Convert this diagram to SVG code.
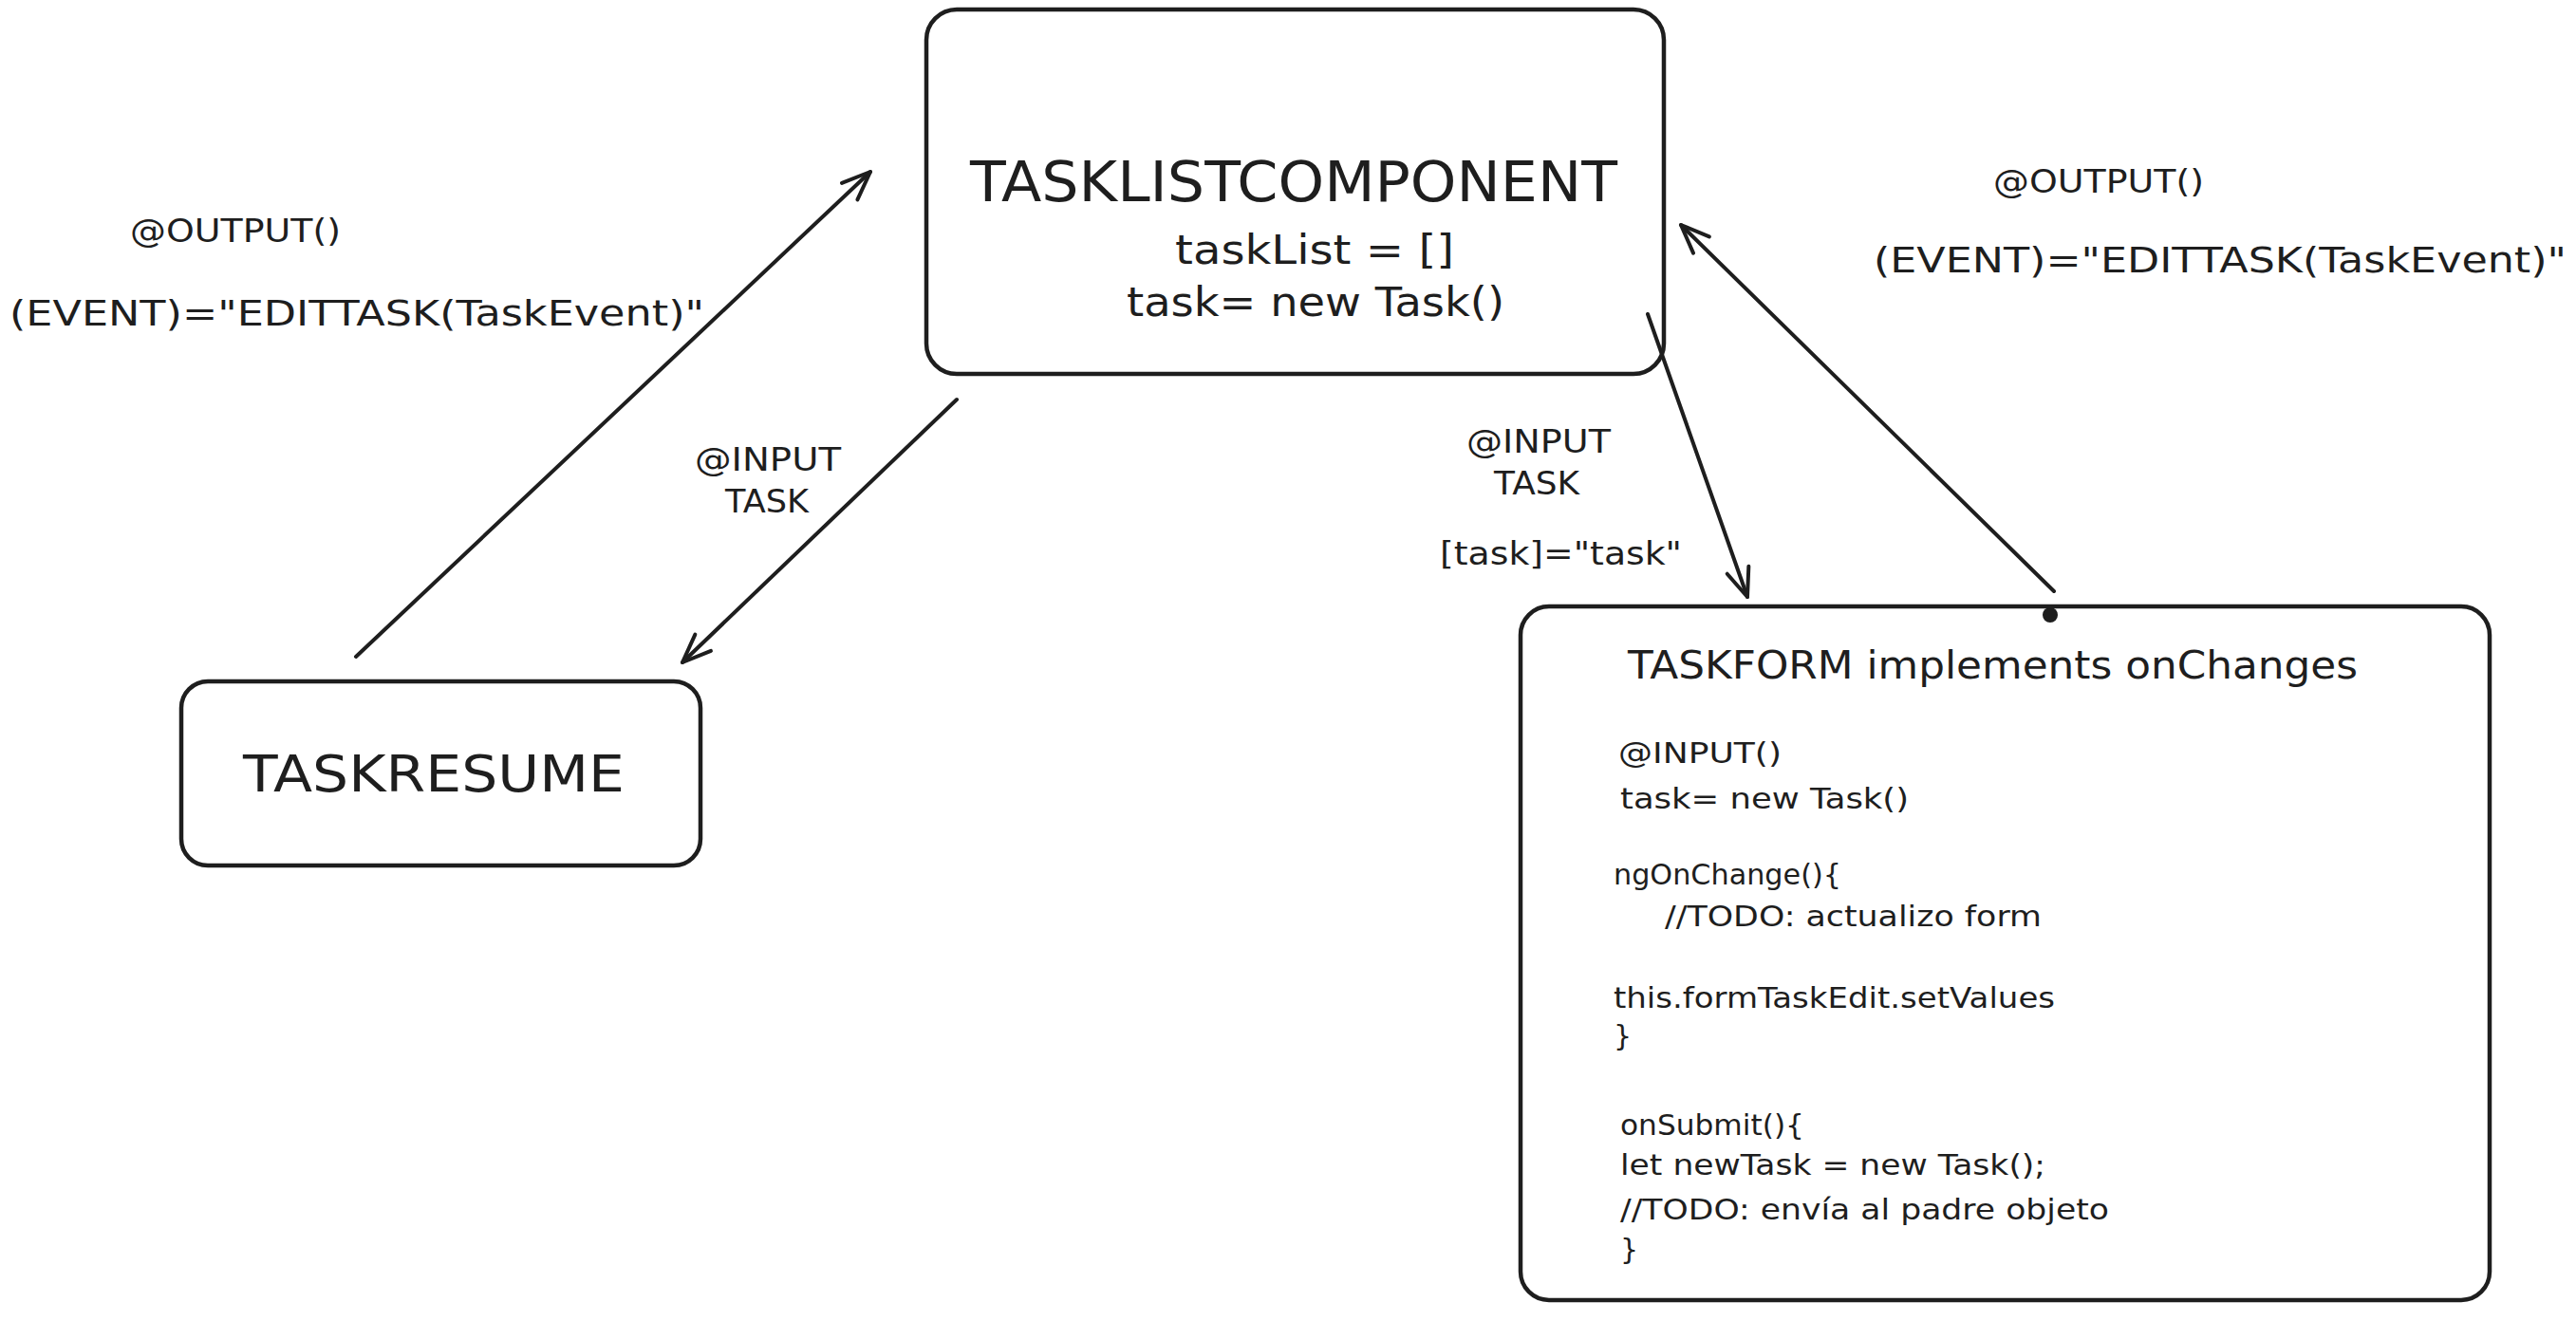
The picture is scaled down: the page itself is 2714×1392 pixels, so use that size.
<svg xmlns="http://www.w3.org/2000/svg" width="2714" height="1392" viewBox="0 0 2714 1392">
  <style>
    .box { fill: none; stroke: #1e1e1e; stroke-width: 4.5; }
    .conn { fill: none; stroke: #1e1e1e; stroke-width: 4; stroke-linecap: round; }
    text { font-family: "DejaVu Sans", "Liberation Sans", sans-serif; fill: #1e1e1e; }
    .title { font-size: 58px; }
    .sub { font-size: 42px; }
    .lbl { font-size: 33px; }
    .evt { font-size: 38px; }
    .code { font-size: 30px; }
    .ftitle { font-size: 41px; }
  </style>
  <defs>
    <marker id="arrow" markerUnits="userSpaceOnUse" markerWidth="60" markerHeight="60" viewBox="-40 -30 60 60" refX="0" refY="0" orient="auto">
      <path d="M -30 -12 L 0 0 L -30 12" fill="none" stroke="#1e1e1e" stroke-width="4" stroke-linecap="round" stroke-linejoin="round"/>
    </marker>
  </defs>

  <g id="connectors">
    <line class="conn" x1="375" y1="692" x2="917" y2="181" marker-end="url(#arrow)"/>
    <line class="conn" x1="1008" y1="421" x2="719" y2="698" marker-end="url(#arrow)"/>
    <line class="conn" x1="1736" y1="331" x2="1841" y2="629" marker-end="url(#arrow)"/>
    <line class="conn" x1="2164" y1="623" x2="1771" y2="237" marker-end="url(#arrow)"/>
    <circle cx="2160" cy="648" r="8" fill="#1e1e1e"/>
  </g>

  <g id="labels">
    <text class="lbl" x="137" y="255" textLength="222" lengthAdjust="spacingAndGlyphs">@OUTPUT()</text>
    <text class="evt" x="10" y="343" textLength="732" lengthAdjust="spacingAndGlyphs">(EVENT)="EDITTASK(TaskEvent)"</text>
    <text class="lbl" x="732" y="496" textLength="154" lengthAdjust="spacingAndGlyphs">@INPUT</text>
    <text class="lbl" x="764" y="540" textLength="88" lengthAdjust="spacingAndGlyphs">TASK</text>
    <text class="lbl" x="2100" y="203" textLength="222" lengthAdjust="spacingAndGlyphs">@OUTPUT()</text>
    <text class="evt" x="1974" y="287" textLength="730" lengthAdjust="spacingAndGlyphs">(EVENT)="EDITTASK(TaskEvent)"</text>
    <text class="lbl" x="1545" y="477" textLength="152" lengthAdjust="spacingAndGlyphs">@INPUT</text>
    <text class="lbl" x="1574" y="521" textLength="90" lengthAdjust="spacingAndGlyphs">TASK</text>
    <text class="lbl" x="1517" y="595" textLength="255" lengthAdjust="spacingAndGlyphs">[task]="task"</text>
  </g>

  <g id="tasklistcomponent">
    <rect class="box" x="976" y="10" width="777" height="384" rx="32" ry="32"/>
    <text class="title" x="1022" y="212" textLength="682" lengthAdjust="spacingAndGlyphs">TASKLISTCOMPONENT</text>
    <text class="sub" x="1238" y="278" textLength="294" lengthAdjust="spacingAndGlyphs">taskList = []</text>
    <text class="sub" x="1187" y="333" textLength="398" lengthAdjust="spacingAndGlyphs">task= new Task()</text>
  </g>

  <g id="taskresume">
    <rect class="box" x="191" y="718" width="547" height="194" rx="28" ry="28"/>
    <text class="title" x="256" y="834" textLength="402" lengthAdjust="spacingAndGlyphs" style="font-size:54px">TASKRESUME</text>
  </g>

  <g id="taskform">
    <rect class="box" x="1602" y="639" width="1021" height="731" rx="30" ry="30"/>
    <text class="ftitle" x="1715" y="715" textLength="769" lengthAdjust="spacingAndGlyphs">TASKFORM implements onChanges</text>
    <text class="code" x="1705" y="804" textLength="172" lengthAdjust="spacingAndGlyphs">@INPUT()</text>
    <text class="code" x="1707" y="852" textLength="304" lengthAdjust="spacingAndGlyphs">task= new Task()</text>
    <text class="code" x="1700" y="932" textLength="240" lengthAdjust="spacingAndGlyphs">ngOnChange(){</text>
    <text class="code" x="1754" y="976" textLength="397" lengthAdjust="spacingAndGlyphs">//TODO: actualizo form</text>
    <text class="code" x="1700" y="1062" textLength="465" lengthAdjust="spacingAndGlyphs">this.formTaskEdit.setValues</text>
    <text class="code" x="1700" y="1102">}</text>
    <text class="code" x="1707" y="1196" textLength="194" lengthAdjust="spacingAndGlyphs">onSubmit(){</text>
    <text class="code" x="1707" y="1238" textLength="448" lengthAdjust="spacingAndGlyphs">let newTask = new Task();</text>
    <text class="code" x="1707" y="1285" textLength="515" lengthAdjust="spacingAndGlyphs">//TODO: envía al padre objeto</text>
    <text class="code" x="1707" y="1327">}</text>
  </g>
</svg>
